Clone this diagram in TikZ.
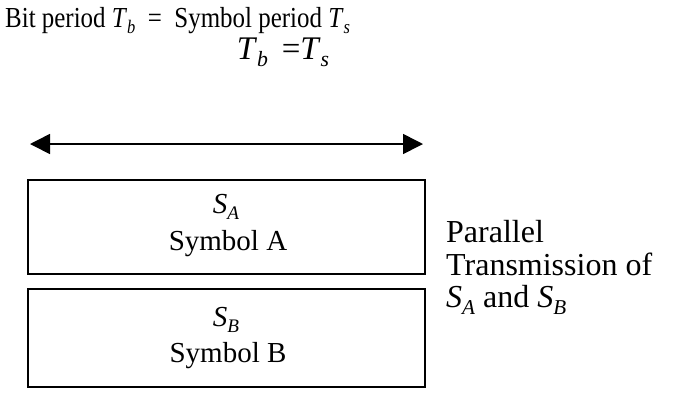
\documentclass[tikz,border=0pt]{standalone}
\usepackage{fontspec}
\setmainfont{Liberation Serif}
\usetikzlibrary{arrows.meta}
\newcommand\symsub[2]{\textit{#1}\raisebox{-0.22em}{\fontsize{0.66em}{0.66em}\selectfont\itshape #2}}
\begin{document}
\begin{tikzpicture}[x=1pt,y=-1pt,
  every node/.style={font=\fontsize{29}{31}\selectfont, inner sep=0pt},
  titletext/.style={font=\fontsize{29}{31}\selectfont},
  labeltext/.style={font=\fontsize{33}{35}\selectfont},
  sidetext/.style={font=\fontsize{32}{34}\selectfont},
  symbox/.style={draw, line width=1.6pt},
  period/.style={line width=1.6pt, {Triangle[length=20pt,width=20pt]}-{Triangle[length=20pt,width=20pt]}}]
\useasboundingbox (0,0) rectangle (674,392);
\node[titletext, anchor=base west] (title) at (5,27) {\scalebox{0.86}[1]{Bit period \symsub{T}{b}\enspace=\enspace Symbol period \symsub{T}{s}}};
\node[labeltext, anchor=base] (tlabel) at (283,59) {\symsub{T}{b}\, =\symsub{T}{s}};
\coordinate (aL) at (30,144);
\coordinate (aR) at (423,144);
\draw[period] (aL) -- (aR);
\draw[symbox] (28,180) rectangle (425,274);
\node[anchor=base] (sa) at (226,213) {\symsub{S}{A}};
\node[anchor=base] (syma) at (228,250) {Symbol A};
\draw[symbox] (28,289) rectangle (425,387);
\node[anchor=base] (sb) at (226,326) {\symsub{S}{B}};
\node[anchor=base] (symb) at (228,362) {Symbol B};
\node[sidetext, anchor=base west] (p1) at (446,242) {Parallel};
\node[sidetext, anchor=base west] (p2) at (446,275) {Transmission of};
\node[sidetext, anchor=base west] (p3) at (446,307) {\symsub{S}{A} and \symsub{S}{B}};
\end{tikzpicture}
\end{document}
